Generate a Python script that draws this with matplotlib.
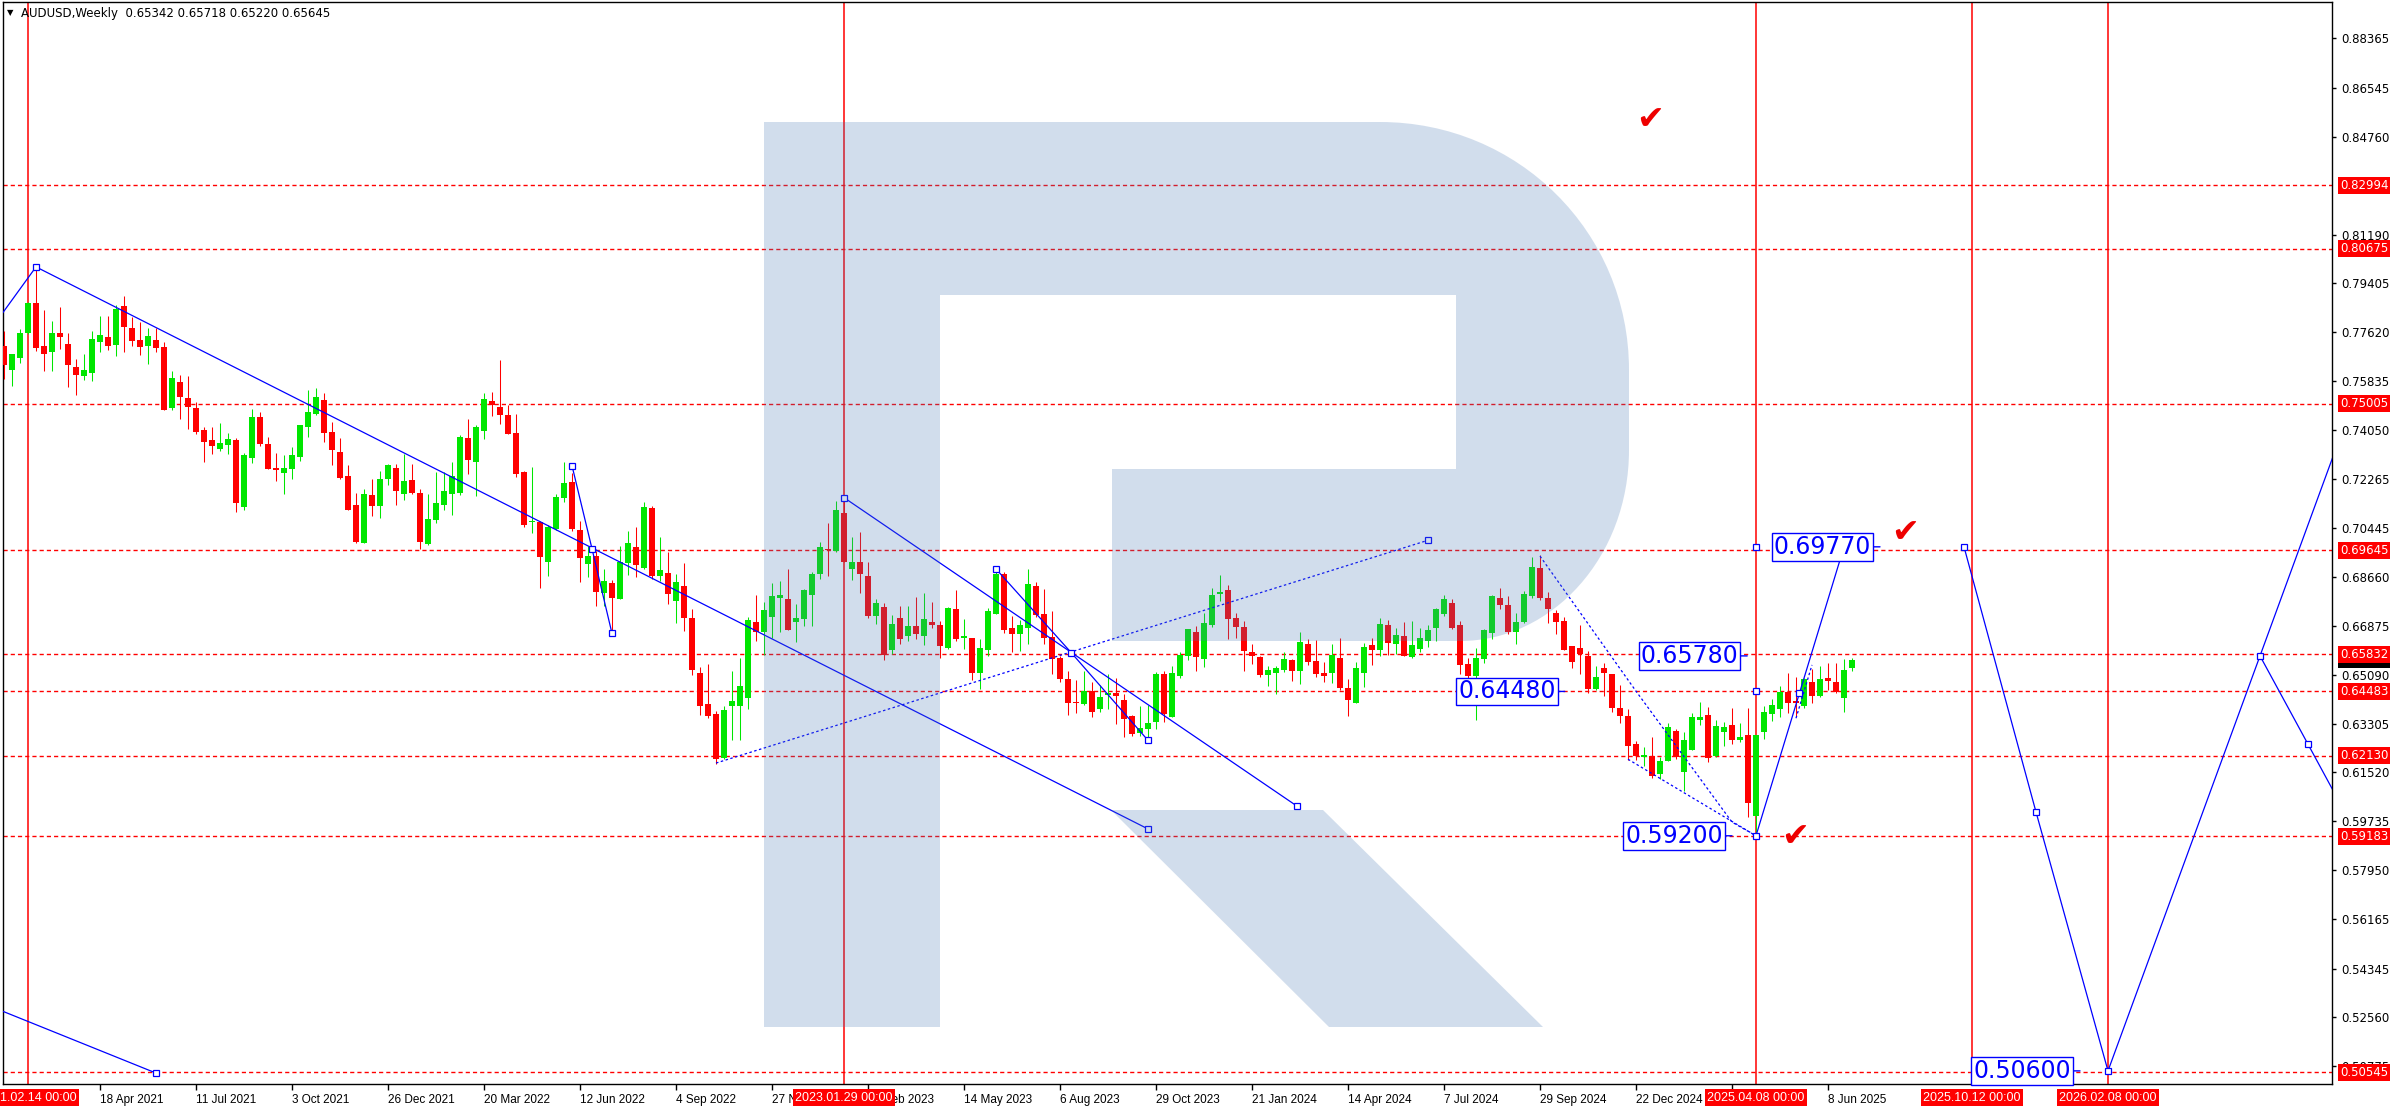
import numpy as np
import pandas as pd
import matplotlib
matplotlib.use("Agg")
import matplotlib.pyplot as plt
import matplotlib.dates as mdates
from matplotlib.path import Path
from matplotlib.patches import PathPatch

# weekly AUDUSD bars, first bar is the week of 2021-01-24
first_week = "2021-01-24"

opens = [
    0.7712, 0.7624, 0.7667, 0.7759, 0.7870, 0.7710, 0.7690, 0.7758, 0.7718, 0.7634,
    0.7602, 0.7613, 0.7725, 0.7743, 0.7715, 0.7857, 0.7776, 0.7732, 0.7712, 0.7732,
    0.7707, 0.7485, 0.7579, 0.7520, 0.7484, 0.7403, 0.7367, 0.7335, 0.7350, 0.7367,
    0.7123, 0.7301, 0.7451, 0.7352, 0.7264, 0.7247, 0.7262, 0.7306, 0.7415, 0.7462,
    0.7513, 0.7396, 0.7323, 0.7235, 0.7129, 0.6991, 0.7166, 0.7127, 0.7225, 0.7264,
    0.7169, 0.7220, 0.7173, 0.6987, 0.7074, 0.7129, 0.7169, 0.7173, 0.7374, 0.7286,
    0.7401, 0.7509, 0.7487, 0.7458, 0.7392, 0.7249, 0.7067, 0.7067, 0.6922, 0.7041,
    0.7154, 0.7213, 0.7037, 0.6914, 0.6944, 0.6808, 0.6844, 0.6786, 0.6918, 0.6976,
    0.6900, 0.7118, 0.6870, 0.6880, 0.6779, 0.6833, 0.6717, 0.6516, 0.6402, 0.6366,
    0.6205, 0.6395, 0.6395, 0.6423, 0.6701, 0.6666, 0.6720, 0.6790, 0.6785, 0.6702,
    0.6713, 0.6801, 0.6878, 0.6970, 0.6961, 0.7100, 0.6896, 0.6922, 0.6869, 0.6724,
    0.6756, 0.6600, 0.6716, 0.6651, 0.6686, 0.6651, 0.6701, 0.6690, 0.6607, 0.6749,
    0.6644, 0.6643, 0.6516, 0.6600, 0.6731, 0.6877, 0.6679, 0.6658, 0.6680, 0.6833,
    0.6730, 0.6647, 0.6571, 0.6494, 0.6406, 0.6402, 0.6448, 0.6384, 0.6435, 0.6443,
    0.6418, 0.6359, 0.6296, 0.6311, 0.6336, 0.6511, 0.6356, 0.6505, 0.6578, 0.6667,
    0.6567, 0.6691, 0.6804, 0.6820, 0.6715, 0.6682, 0.6591, 0.6574, 0.6508, 0.6514,
    0.6527, 0.6562, 0.6523, 0.6623, 0.6560, 0.6514, 0.6514, 0.6569, 0.6462, 0.6406,
    0.6516, 0.6617, 0.6600, 0.6690, 0.6621, 0.6650, 0.6574, 0.6603, 0.6633, 0.6680,
    0.6730, 0.6770, 0.6690, 0.6547, 0.6505, 0.6567, 0.6661, 0.6789, 0.6764, 0.6667,
    0.6701, 0.6798, 0.6901, 0.6789, 0.6736, 0.6705, 0.6614, 0.6606, 0.6578, 0.6456,
    0.6535, 0.6511, 0.6389, 0.6358, 0.6255, 0.6210, 0.6212, 0.6145, 0.6194, 0.6304,
    0.6154, 0.6234, 0.6344, 0.6361, 0.6212, 0.6300, 0.6324, 0.6271, 0.6288, 0.5993,
    0.6300, 0.6365, 0.6383, 0.6447, 0.6412, 0.6395, 0.6484, 0.6432, 0.6496, 0.6484,
    0.6423, 0.65342]
highs = [
    0.7766, 0.7683, 0.7772, 0.7872, 0.8001, 0.7842, 0.7802, 0.7853, 0.7758, 0.7665,
    0.7681, 0.7765, 0.7820, 0.7820, 0.7861, 0.7893, 0.7816, 0.7798, 0.7776, 0.7776,
    0.7727, 0.7619, 0.7604, 0.7601, 0.7506, 0.7414, 0.7414, 0.7429, 0.7392, 0.7374,
    0.7319, 0.7480, 0.7469, 0.7378, 0.7319, 0.7312, 0.7341, 0.7424, 0.7550, 0.7557,
    0.7539, 0.7433, 0.7374, 0.7275, 0.7173, 0.7188, 0.7224, 0.7253, 0.7279, 0.7279,
    0.7315, 0.7279, 0.7187, 0.7169, 0.7249, 0.7249, 0.7286, 0.7385, 0.7443, 0.7421,
    0.7538, 0.7543, 0.7659, 0.7496, 0.7462, 0.7253, 0.7268, 0.7070, 0.7057, 0.7169,
    0.7286, 0.7246, 0.7070, 0.6980, 0.6962, 0.6896, 0.6856, 0.6980, 0.7034, 0.7048,
    0.7140, 0.7125, 0.7012, 0.6958, 0.6877, 0.6918, 0.6750, 0.6538, 0.6549, 0.6377,
    0.6395, 0.6523, 0.6571, 0.6720, 0.6801, 0.6775, 0.6844, 0.6851, 0.6895, 0.6767,
    0.6822, 0.6886, 0.6994, 0.7063, 0.7143, 0.7157, 0.7012, 0.7030, 0.6922, 0.6785,
    0.6770, 0.6727, 0.6760, 0.6760, 0.6792, 0.6807, 0.6774, 0.6705, 0.6756, 0.6818,
    0.6712, 0.6645, 0.6639, 0.6752, 0.6896, 0.6885, 0.6723, 0.6710, 0.6895, 0.6848,
    0.6822, 0.6741, 0.6578, 0.6523, 0.6490, 0.6523, 0.6483, 0.6472, 0.6512, 0.6498,
    0.6439, 0.6362, 0.6395, 0.6399, 0.6519, 0.6523, 0.6541, 0.6594, 0.6677, 0.6689,
    0.6734, 0.6825, 0.6873, 0.6836, 0.6734, 0.6706, 0.6623, 0.6576, 0.6541, 0.6541,
    0.6594, 0.6566, 0.6667, 0.6641, 0.6635, 0.6557, 0.6620, 0.6645, 0.6495, 0.6556,
    0.6627, 0.6643, 0.6715, 0.6709, 0.6679, 0.6703, 0.6707, 0.6679, 0.6690, 0.6753,
    0.6800, 0.6786, 0.6704, 0.6570, 0.6606, 0.6675, 0.6800, 0.6825, 0.6797, 0.6734,
    0.6814, 0.6939, 0.6946, 0.6812, 0.6746, 0.6722, 0.6616, 0.6690, 0.6596, 0.6541,
    0.6551, 0.6513, 0.6471, 0.6383, 0.6267, 0.6246, 0.6283, 0.6210, 0.6332, 0.6310,
    0.6298, 0.6368, 0.6410, 0.6391, 0.6344, 0.6336, 0.6389, 0.6332, 0.6389, 0.6290,
    0.6393, 0.6419, 0.6468, 0.6514, 0.6500, 0.6497, 0.6531, 0.6541, 0.6551, 0.6551,
    0.6566, 0.65718]
lows = [
    0.7592, 0.7565, 0.7651, 0.7757, 0.7693, 0.7620, 0.7620, 0.7699, 0.7562, 0.7532,
    0.7586, 0.7584, 0.7690, 0.7697, 0.7675, 0.7690, 0.7712, 0.7679, 0.7645, 0.7691,
    0.7476, 0.7478, 0.7445, 0.7408, 0.7389, 0.7286, 0.7315, 0.7326, 0.7315, 0.7105,
    0.7112, 0.7283, 0.7345, 0.7260, 0.7217, 0.7171, 0.7225, 0.7290, 0.7378, 0.7458,
    0.7359, 0.7275, 0.7225, 0.7110, 0.6991, 0.6991, 0.7090, 0.7083, 0.7203, 0.7130,
    0.7148, 0.7169, 0.6968, 0.6985, 0.7063, 0.7110, 0.7092, 0.7165, 0.7242, 0.7162,
    0.7370, 0.7455, 0.7426, 0.7388, 0.7232, 0.7051, 0.7026, 0.6825, 0.6870, 0.7038,
    0.7140, 0.7034, 0.6849, 0.6867, 0.6761, 0.6761, 0.6663, 0.6786, 0.6874, 0.6867,
    0.6896, 0.6858, 0.6852, 0.6768, 0.6699, 0.6669, 0.6508, 0.6362, 0.6351, 0.6183,
    0.6201, 0.6271, 0.6271, 0.6384, 0.6633, 0.6582, 0.6644, 0.6666, 0.6671, 0.6628,
    0.6688, 0.6688, 0.6858, 0.6870, 0.6957, 0.6920, 0.6856, 0.6808, 0.6717, 0.6695,
    0.6563, 0.6586, 0.6622, 0.6633, 0.6640, 0.6618, 0.6680, 0.6571, 0.6605, 0.6633,
    0.6604, 0.6490, 0.6457, 0.6578, 0.6731, 0.6662, 0.6592, 0.6596, 0.6622, 0.6720,
    0.6622, 0.6511, 0.6483, 0.6363, 0.6370, 0.6399, 0.6355, 0.6373, 0.6384, 0.6329,
    0.6282, 0.6285, 0.6285, 0.6278, 0.6311, 0.6336, 0.6354, 0.6497, 0.6563, 0.6523,
    0.6537, 0.6684, 0.6779, 0.6640, 0.6643, 0.6523, 0.6549, 0.6501, 0.6468, 0.6439,
    0.6519, 0.6486, 0.6475, 0.6545, 0.6501, 0.6483, 0.6479, 0.6453, 0.6358, 0.6404,
    0.6463, 0.6545, 0.6578, 0.6581, 0.6585, 0.6576, 0.6572, 0.6594, 0.6611, 0.6634,
    0.6723, 0.6678, 0.6512, 0.6480, 0.6344, 0.6553, 0.6641, 0.6748, 0.6658, 0.6623,
    0.6697, 0.6789, 0.6783, 0.6700, 0.6657, 0.6598, 0.6533, 0.6511, 0.6441, 0.6453,
    0.6432, 0.6371, 0.6334, 0.6198, 0.6198, 0.6176, 0.6133, 0.6129, 0.6192, 0.6200,
    0.6084, 0.6232, 0.6324, 0.6190, 0.6210, 0.6249, 0.6255, 0.6263, 0.5987, 0.5915,
    0.6273, 0.6340, 0.6354, 0.6368, 0.6358, 0.6389, 0.6406, 0.6428, 0.6452, 0.6441,
    0.6371, 0.65220]
closes = [
    0.7642, 0.7681, 0.7760, 0.7870, 0.7703, 0.7682, 0.7758, 0.7744, 0.7642, 0.7606,
    0.7623, 0.7736, 0.7751, 0.7712, 0.7846, 0.7781, 0.7729, 0.7708, 0.7747, 0.7704,
    0.7478, 0.7593, 0.7524, 0.7489, 0.7396, 0.7359, 0.7346, 0.7356, 0.7370, 0.7138,
    0.7312, 0.7451, 0.7352, 0.7262, 0.7257, 0.7264, 0.7312, 0.7422, 0.7469, 0.7524,
    0.7394, 0.7331, 0.7229, 0.7112, 0.6995, 0.7169, 0.7127, 0.7224, 0.7276, 0.7181,
    0.7217, 0.7173, 0.6995, 0.7078, 0.7136, 0.7180, 0.7235, 0.7377, 0.7295, 0.7414,
    0.7516, 0.7497, 0.7459, 0.7390, 0.7242, 0.7056, 0.7070, 0.6940, 0.7050, 0.7158,
    0.7209, 0.7041, 0.6936, 0.6944, 0.6812, 0.6852, 0.6790, 0.6922, 0.6992, 0.6911,
    0.7122, 0.6870, 0.6891, 0.6805, 0.6847, 0.6717, 0.6527, 0.6395, 0.6359, 0.6201,
    0.6381, 0.6412, 0.6467, 0.6710, 0.6667, 0.6746, 0.6796, 0.6800, 0.6673, 0.6716,
    0.6819, 0.6877, 0.6975, 0.6966, 0.7111, 0.6922, 0.6922, 0.6878, 0.6724, 0.6770,
    0.6582, 0.6694, 0.6640, 0.6686, 0.6658, 0.6712, 0.6691, 0.6615, 0.6752, 0.6640,
    0.6650, 0.6516, 0.6606, 0.6741, 0.6877, 0.6673, 0.6658, 0.6690, 0.6840, 0.6728,
    0.6644, 0.6567, 0.6494, 0.6404, 0.6404, 0.6448, 0.6373, 0.6429, 0.6443, 0.6432,
    0.6348, 0.6293, 0.6313, 0.6333, 0.6512, 0.6364, 0.6514, 0.6581, 0.6675, 0.6574,
    0.6698, 0.6800, 0.6811, 0.6713, 0.6684, 0.6596, 0.6578, 0.6509, 0.6525, 0.6534,
    0.6566, 0.6523, 0.6628, 0.6555, 0.6512, 0.6505, 0.6581, 0.6461, 0.6416, 0.6534,
    0.6611, 0.6600, 0.6694, 0.6625, 0.6655, 0.6578, 0.6617, 0.6643, 0.6672, 0.6750,
    0.6785, 0.6680, 0.6545, 0.6505, 0.6572, 0.6673, 0.6796, 0.6765, 0.6666, 0.6703,
    0.6806, 0.6902, 0.6789, 0.6751, 0.6702, 0.6600, 0.6556, 0.6584, 0.6456, 0.6500,
    0.6517, 0.6386, 0.6358, 0.6249, 0.6212, 0.6215, 0.6139, 0.6194, 0.6319, 0.6210,
    0.6269, 0.6354, 0.6356, 0.6205, 0.6322, 0.6319, 0.6271, 0.6283, 0.6039, 0.6288,
    0.6373, 0.6397, 0.6447, 0.6406, 0.6404, 0.6495, 0.6432, 0.6492, 0.6486, 0.6446,
    0.6528, 0.65645]

header = "AUDUSD,Weekly  0.65342 0.65718 0.65220 0.65645"

# horizontal levels (red dashed lines + red price tags)
levels = [0.82994, 0.80675, 0.75005, 0.69645, 0.65832, 0.64483, 0.62130, 0.59183, 0.50545]
last_price = 0.65645

price_ticks = [0.88365, 0.86545, 0.84760, 0.81190, 0.79405, 0.77620, 0.75835, 0.74050,
               0.72265, 0.70445, 0.68660, 0.66875, 0.65090, 0.63305, 0.61520, 0.59735,
               0.57950, 0.56165, 0.54345, 0.52560, 0.50775]

date_ticks = ["2021-04-18", "2021-07-11", "2021-10-03", "2021-12-26", "2022-03-20",
              "2022-06-12", "2022-09-04", "2022-11-27", "2023-02-19", "2023-05-14",
              "2023-08-06", "2023-10-29", "2024-01-21", "2024-04-14", "2024-07-07",
              "2024-09-29", "2024-12-22", "2025-03-16", "2025-06-08"]

vline_dates = ["2021-02-14", "2023-01-29", "2025-04-06", "2025-10-12", "2026-02-08"]
vline_labels = ["2021.02.14 00:00", "2023.01.29 00:00", "2025.04.08 00:00",
                "2025.10.12 00:00", "2026.02.08 00:00"]

# drawn trend lines, as (bar number, price)
trend_a_bar = [-1, 4, 143]
trend_a_px = [0.7799, 0.8001, 0.5945]
trend_b_bar = [105, 161.6]
trend_b_px = [0.7157, 0.6029]
trend_c_bar = [124, 133.4, 143]
trend_c_px = [0.6896, 0.6590, 0.6269]
zig_bar = [71, 73.5, 76]
zig_px = [0.7274, 0.6970, 0.6660]
low_line_bar = [-1, 19]
low_line_px = [0.5288, 0.5052]
dot_d_bar = [89, 178]
dot_d_px = [0.6186, 0.7001]
dot_e_bar = [192, 204, 216, 219]
dot_e_px = [0.6943, 0.6449, 0.5970, 0.5920]
dot_f_bar = [203, 219]
dot_f_px = [0.6200, 0.5920]
dot_g_bar = [224, 226]
dot_g_px = [0.6350, 0.6545]
proj_1_bar = [219, 230]
proj_1_px = [0.5920, 0.6977]
proj_2_bar = [245, 254, 263, 282, 288, 294]
proj_2_px = [0.6977, 0.6007, 0.5060, 0.6578, 0.6255, 0.5931]
proj_3_bar = [282, 293]
proj_3_px = [0.6578, 0.7457]

# price boxes: text, anchor bar, anchor price
tag_text = ["0.69770", "0.65780", "0.64480", "0.59200", "0.50600"]
tag_bar = [234.5, 217.9, 195.1, 216.0, 259.5]
tag_px = [0.6977, 0.6578, 0.6448, 0.5920, 0.5060]

check_bar = [205.8, 237.6, 223.9]
check_px = [0.8542, 0.7028, 0.5916]

# ------------------------------------------------------------------
W, H = 2396, 1110
fig = plt.figure(figsize=(W / 100, H / 100), dpi=100)
ax = fig.add_axes([3 / W, (H - 1084) / H, 2329 / W, 1082 / H])

t0 = mdates.date2num(pd.Timestamp(first_week))


def wk(b):
    return t0 + 7 * np.asarray(b, dtype=float)


o = np.array(opens)
h = np.array(highs)
l = np.array(lows)
c = np.array(closes)
x = wk(np.arange(len(o)))
col = np.where(c >= o, "#00E600", "#FF0000")

ax.vlines(x, l, h, colors=col, lw=0.75, zorder=3)
ax.bar(x, np.maximum(np.abs(c - o), 0.0004), bottom=np.minimum(o, c),
       width=4.6, color=col, lw=0, zorder=3)

for lv in levels:
    ax.axhline(lv, color="red", lw=1.0, ls=(0, (3, 2.2)), zorder=2)
for d in vline_dates:
    ax.axvline(mdates.date2num(pd.Timestamp(d)), color="red", lw=1.1, zorder=2)

blue = "#0000FF"
mk = dict(ls="none", marker="s", ms=4.5, mfc="white", mec=blue, mew=0.9, zorder=6)
solid = [(trend_a_bar, trend_a_px), (trend_b_bar, trend_b_px), (trend_c_bar, trend_c_px),
         (zig_bar, zig_px), (low_line_bar, low_line_px), (proj_1_bar, proj_1_px),
         (proj_2_bar, proj_2_px), (proj_3_bar, proj_3_px)]
for b, p in solid:
    ax.plot(wk(b), p, color=blue, lw=0.9, zorder=5)
dotted = [(dot_d_bar, dot_d_px), (dot_e_bar, dot_e_px), (dot_f_bar, dot_f_px),
          (dot_g_bar, dot_g_px)]
for b, p in dotted:
    ax.plot(wk(b), p, color=blue, lw=0.9, ls=(0, (2, 2)), zorder=5)

ax.plot(wk(trend_a_bar[1:]), trend_a_px[1:], **mk)
ax.plot(wk([trend_b_bar[0], trend_b_bar[-1]]), [trend_b_px[0], trend_b_px[-1]], **mk)
ax.plot(wk(trend_c_bar), trend_c_px, **mk)
ax.plot(wk(zig_bar), zig_px, **mk)
ax.plot(wk(low_line_bar[1:]), low_line_px[1:], **mk)
ax.plot(wk(proj_1_bar), proj_1_px, **mk)
ax.plot(wk(proj_2_bar[:5]), proj_2_px[:5], **mk)
ax.plot(wk([219, 219, 224.4]), [0.6977, 0.6448, 0.6444], **mk)
ax.plot(wk([dot_d_bar[-1]]), [dot_d_px[-1]], **mk)

for t, b, p in zip(tag_text, tag_bar, tag_px):
    ax.annotate(t, xy=(wk(b), p), xytext=(-9, 0), textcoords="offset pixels",
                ha="right", va="center", fontsize=17, color=blue,
                bbox=dict(boxstyle="square,pad=0.08", fc="white", ec=blue, lw=1.0),
                arrowprops=dict(arrowstyle="-", color=blue, lw=1.0,
                                shrinkA=0, shrinkB=0), zorder=8)

for b, p in zip(check_bar, check_px):
    ax.text(wk(b), p, "\u2714", color="#EE0000", fontsize=24, ha="center",
            va="center", zorder=8)

# watermark logo, in figure pixels (y downwards)
def fp(px_, py_):
    return (px_ / W, 1 - py_ / H)


verts, codes = [], []


def add(code, *pts):
    for pt in pts:
        verts.append(fp(*pt))
        codes.append(code)


add(Path.MOVETO, (764, 122))
add(Path.LINETO, (1380, 122))
add(Path.CURVE4, (1518, 122), (1629, 232), (1629, 370))
add(Path.LINETO, (1629, 450))
add(Path.CURVE4, (1629, 556), (1553, 641), (1460, 641))
add(Path.LINETO, (1112, 641), (1112, 469), (1456, 469), (1456, 295), (940, 295),
    (940, 1027), (764, 1027))
add(Path.CLOSEPOLY, (764, 122))
add(Path.MOVETO, (1111, 810))
add(Path.LINETO, (1323, 810), (1543, 1027), (1329, 1027))
add(Path.CLOSEPOLY, (1111, 810))
logo = PathPatch(Path(verts, codes), transform=fig.transFigure, fc="#4A7AB6",
                 ec="none", alpha=0.25, zorder=7, clip_on=False)
ax.add_patch(logo)

# axes ------------------------------------------------------------
ax.set_xlim(wk(-0.125), wk(291.0))
ax.set_ylim(0.5012, 0.8970)
ax.yaxis.tick_right()
ax.set_yticks(price_ticks)
ax.set_yticklabels([f"{v:.5f}" for v in price_ticks])
ax.tick_params(axis="y", length=3, width=1, pad=4, labelsize=8.5)
tick_dates = [pd.Timestamp(d) for d in date_ticks]
ax.set_xticks(mdates.date2num(tick_dates))
ax.set_xticklabels([f"{d.day} {d:%b %Y}" for d in tick_dates], ha="left",
                   family="Liberation Sans", fontsize=8.5)
ax.tick_params(axis="x", length=4, width=1, pad=3)
for s in ax.spines.values():
    s.set_color("black")
    s.set_linewidth(1.0)

ytr = ax.get_yaxis_transform()
ax.text(1.0034, last_price, f"{last_price:.5f}", transform=ytr, color="white",
        fontsize=8.5, va="center", ha="left", clip_on=False, zorder=9,
        bbox=dict(boxstyle="square,pad=0.15", fc="black", ec="none"))
for lv in levels:
    ax.text(1.0034, lv, f"{lv:.5f}", transform=ytr, color="white", fontsize=8.5,
            va="center", ha="left", clip_on=False, zorder=10,
            bbox=dict(boxstyle="square,pad=0.15", fc="red", ec="none"))

xtr = ax.get_xaxis_transform()
for d, t in zip(vline_dates, vline_labels):
    ax.text(mdates.date2num(pd.Timestamp(d)), -0.0125, t, transform=xtr,
            color="white", fontsize=9, ha="center", va="center", clip_on=False,
            family="Liberation Sans", zorder=10,
            bbox=dict(boxstyle="square,pad=0.2", fc="red", ec="none"))

fig.text(7 / W, 1 - 13 / H, "\u25BC", fontsize=6, va="center", ha="left")
fig.text(21 / W, 1 - 13 / H, header, fontsize=8.5, va="center", ha="left")

fig.savefig("out.png", dpi=100, facecolor="white")
